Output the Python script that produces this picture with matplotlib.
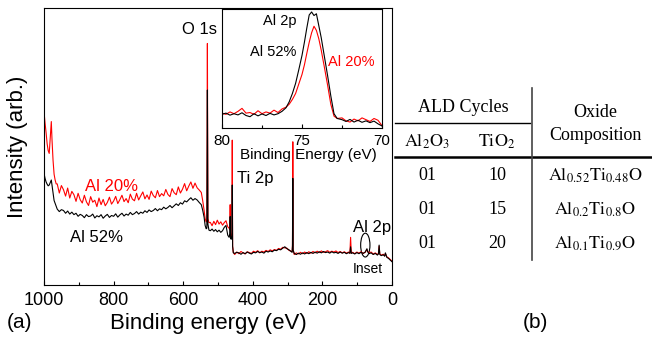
import numpy as np
import matplotlib
matplotlib.use("Agg")
import matplotlib.pyplot as plt
from matplotlib.patches import Ellipse

plt.rcParams['font.family'] = ['Liberation Sans', 'DejaVu Sans']
plt.rcParams['mathtext.fontset'] = 'stix'

# survey spectrum (binding energy in eV, intensity in arb. units)
energy = [
    1000, 997, 994, 991, 988, 985, 982, 979, 977, 974, 971, 968, 965,
    962, 956, 950, 944, 938, 932, 926, 920, 914, 908,
    902, 896, 890, 884, 878, 872, 866, 860, 854, 848,
    842, 836, 830, 824, 818, 812, 806, 800, 794, 788,
    782, 776, 770, 764, 758, 752, 746, 740, 734, 728,
    722, 716, 710, 704, 698, 692, 686, 680, 674, 668,
    662, 656, 650, 644, 638, 632, 626, 620, 614, 608,
    602, 596, 590, 584, 578, 572, 566, 560, 554, 548,
    544, 540, 537, 534,
    532, 530.5, 529, 526,
    522, 517, 512, 507, 502, 497, 492, 487, 482, 477, 472, 468,
    466, 465, 464, 462, 460, 459, 458, 456,
    452, 446, 440, 434, 428, 422, 416, 410, 404, 398,
    392, 386, 380, 374, 368, 362, 356, 350, 344, 338,
    332, 326, 320, 314, 308, 302, 296, 290, 287,
    286, 285, 284,
    281, 275, 269, 263, 257, 251, 245, 239, 233, 227,
    221, 215, 209, 203, 197, 191, 185, 179, 173, 167,
    161, 155, 149, 143, 137, 131, 125,
    121, 119, 117,
    113, 107, 101, 95, 89, 83, 77,
    74, 72, 70,
    66, 60, 54, 48, 42,
    39, 37, 35,
    31, 25, 21, 19, 15, 10, 5, 0,
]

al52 = [
    40.3, 38.5, 37.2, 36.4, 35.8, 36.1, 37.0, 37.9, 36.0, 33.0, 30.5, 29.5, 28.6,
    27.4, 26.5, 27.2, 26.9, 25.9, 26.7, 25.6, 26.3, 25.4, 25.9,
    24.8, 25.5, 25.1, 24.3, 25.4, 24.7, 24.9, 25.6, 24.2, 25.0,
    24.6, 25.4, 24.1, 24.9, 25.5, 24.4, 25.1, 24.8, 25.7, 24.5,
    25.3, 25.9, 24.9, 25.6, 25.2, 26.2, 25.4, 25.8, 26.5, 25.6,
    26.3, 25.9, 26.8, 26.2, 27.1, 26.5, 26.9, 27.6, 26.8, 27.5,
    27.2, 28.1, 27.5, 28.0, 28.7, 27.9, 28.6, 29.3, 28.7, 29.7,
    29.2, 30.4, 30.0, 30.8, 31.5, 30.6, 31.2, 30.7, 29.8, 29.0,
    27.0, 24.5, 21.5, 20.3,
    20.5, 70.4, 22.0, 19.8,
    19.6, 20.2, 19.4, 20.0, 19.2, 19.8, 19.0, 19.6, 20.8, 21.5, 18.0, 17.2,
    18.5, 24.7, 17.0, 16.5, 18.0, 36.1, 14.0, 11.6,
    11.4, 11.8, 11.6, 11.1, 11.7, 11.3, 11.9, 11.5, 11.2, 11.8,
    11.6, 12.1, 11.7, 11.9, 11.5, 12.2, 11.9, 12.3, 12.0, 12.6,
    12.4, 12.9, 12.7, 13.3, 13.8, 13.1, 12.7, 12.1, 11.8,
    14.0, 38.5, 12.5,
    11.4, 11.0, 11.5, 11.1, 11.6, 11.2, 11.7, 11.3, 11.8, 11.4,
    11.9, 11.5, 12.0, 11.6, 12.1, 11.7, 11.9, 11.5, 12.0, 11.6,
    11.8, 11.4, 11.9, 11.5, 11.8, 11.3, 11.7,
    11.5, 13.8, 11.4,
    11.6, 11.2, 11.7, 11.3, 11.8, 11.4, 11.9,
    12.6, 13.1, 12.0,
    11.3, 11.6, 11.0, 11.4, 10.8,
    11.2, 14.4, 11.0,
    10.6, 10.9, 10.4, 11.6, 10.0, 9.6, 9.0, 8.4,
]

al20 = [
    62.6, 58.5, 55.0, 51.0, 48.5, 47.5, 53.0, 59.0, 52.5, 45.0, 40.0, 37.9, 36.5,
    36.5, 33.2, 35.9, 34.4, 32.1, 35.0, 31.4, 33.8, 32.6, 30.2,
    33.1, 30.8, 29.6, 32.4, 30.0, 28.7, 31.9, 29.9, 30.6, 28.3,
    31.4, 29.0, 30.9, 28.6, 29.8, 31.7, 29.2, 30.3, 32.0, 29.4,
    30.8, 32.4, 30.1, 31.2, 29.7, 32.8, 31.0, 30.4, 33.1, 30.7,
    32.2, 33.6, 31.1, 32.5, 30.9, 33.9, 32.3, 31.5, 34.1, 31.9,
    33.0, 32.2, 34.5, 32.7, 31.9, 34.8, 33.3, 32.6, 35.4, 33.2,
    34.6, 36.6, 34.0, 35.7, 37.2, 34.9, 36.8, 35.1, 34.3, 33.4,
    30.5, 27.0, 24.0, 22.8,
    23.0, 87.2, 24.0, 22.5,
    22.6, 21.4, 23.0, 21.8, 23.4, 22.0, 22.8, 21.6, 22.5, 23.2, 21.0, 20.5,
    20.0, 29.0, 18.0, 17.0, 19.0, 52.3, 14.0, 11.8,
    11.0, 11.9, 11.3, 12.1, 11.6, 11.2, 12.0, 11.7, 11.4, 12.2,
    11.8, 12.4, 11.6, 12.2, 11.9, 12.5, 12.1, 12.7, 12.3, 12.8,
    12.5, 13.2, 12.9, 13.6, 13.4, 13.3, 12.5, 12.2, 12.0,
    14.5, 51.7, 12.8,
    11.0, 11.6, 11.2, 11.8, 11.3, 11.9, 11.4, 12.0, 11.5, 12.1,
    11.6, 12.2, 11.7, 12.3, 11.8, 12.0, 12.4, 11.8, 12.2, 11.9,
    12.3, 11.7, 12.1, 11.6, 12.0, 11.5, 11.9,
    11.4, 17.2, 11.6,
    11.8, 11.3, 11.9, 11.5, 12.0, 11.4, 11.8,
    12.4, 12.8, 12.2,
    11.6, 11.9, 11.2, 11.6, 11.0,
    11.4, 14.0, 11.2,
    10.8, 11.1, 10.5, 11.4, 10.2, 9.8, 9.2, 8.6,
]

# Al 2p high resolution (inset)
energy_in = [
    80.0, 79.75, 79.5, 79.25, 79.0, 78.75, 78.5, 78.25, 78.0, 77.75,
    77.5, 77.25, 77.0, 76.75, 76.5, 76.25, 76.0, 75.8, 75.6, 75.4,
    75.2, 75.0, 74.85, 74.7, 74.55, 74.4, 74.25, 74.1, 73.95, 73.8,
    73.6, 73.4, 73.2, 73.0, 72.8, 72.5, 72.25, 72.0, 71.75, 71.5,
    71.25, 71.0, 70.75, 70.5, 70.25, 70.0,
]
al52_in = [
    11.5, 12.5, 10.8, 12.0, 11.0, 12.8, 10.5, 9.5, 12.0, 10.2,
    11.8, 10.5, 12.3, 11.0, 12.0, 14.0, 17.0, 22.0, 29.0, 37.5,
    49.0, 61.0, 72.0, 84.0, 95.0, 97.5, 94.5, 96.0, 86.0, 76.0,
    60.0, 44.0, 27.0, 12.0, 8.0, 7.0, 5.5, 7.2, 5.0, 6.5,
    4.8, 6.0, 4.5, 5.8, 3.5, 1.7,
]
al20_in = [
    12.5, 11.5, 13.5, 12.0, 14.0, 16.5, 12.5, 13.0, 11.5, 14.5,
    12.0, 13.5, 12.5, 15.0, 13.0, 16.0, 17.5, 20.0, 24.0, 29.0,
    37.0, 45.0, 53.0, 62.7, 72.0, 80.0, 85.5, 82.0, 75.0, 65.5,
    51.0, 36.0, 20.0, 10.0, 8.0, 8.5, 6.0, 5.0, 7.5, 6.0,
    8.5, 7.0, 5.5, 8.0, 6.5, 2.0,
]

# table (b)
al2o3_cycles = ['01', '01', '01']
tio2_cycles = ['10', '15', '20']
compositions = [r'$\mathrm{Al_{0.52}Ti_{0.48}O}$',
                r'$\mathrm{Al_{0.2}Ti_{0.8}O}$',
                r'$\mathrm{Al_{0.1}Ti_{0.9}O}$']

W, H = 652, 339


def fx(px):
    return px / W


def fy(py):
    return 1 - py / H


fig = plt.figure(figsize=(W / 100, H / 100), dpi=100)

# main survey axes
ax = fig.add_axes([fx(44), fy(285), fx(392) - fx(44), fy(8) - fy(285)])
ax.plot(energy, al20, color='red', lw=0.8)
ax.plot(energy, al52, color='black', lw=0.8)
ax.set_xlim(1000, 0)
ax.set_ylim(0, 100)
ax.set_xticks([1000, 800, 600, 400, 200, 0])
ax.set_xticks(np.arange(900, 0, -200), minor=True)
ax.set_yticks([])
ax.tick_params(axis='x', which='major', direction='in', length=3, width=0.8,
               labelsize=13, pad=5)
ax.tick_params(axis='x', which='minor', direction='in', length=2, width=0.8)
for s in ax.spines.values():
    s.set_linewidth(0.8)

ax.text(552, 92.4, 'O 1s', fontsize=12, ha='center', va='center')
ax.text(394, 38.6, 'Ti 2p', fontsize=12, ha='center', va='center')
ax.text(807, 35.4, 'Al 20%', fontsize=12, color='red', ha='center', va='center')
ax.text(848, 17.3, 'Al 52%', fontsize=12, ha='center', va='center')
ax.text(56, 20.6, 'Al 2p', fontsize=12, ha='center', va='center')
ax.text(69, 5.8, 'Inset', fontsize=10, ha='center', va='center')
ax.add_patch(Ellipse((76.7, 14.4), 26.7, 8.6, fill=False, ec='black', lw=0.8))

fig.text(fx(18), fy(146.5), 'Intensity (arb.)', fontsize=16, rotation=90,
         ha='center', va='center')
fig.text(fx(208), fy(323), 'Binding energy (eV)', fontsize=16,
         ha='center', va='center')
fig.text(fx(19.5), fy(323), '(a)', fontsize=15, ha='center', va='center')
fig.text(fx(535.5), fy(323), '(b)', fontsize=15, ha='center', va='center')

# inset
axi = fig.add_axes([fx(222), fy(128), fx(382) - fx(222), fy(9) - fy(128)])
axi.plot(energy_in, al20_in, color='red', lw=0.8)
axi.plot(energy_in, al52_in, color='black', lw=0.8)
axi.set_xlim(80, 70)
axi.set_ylim(0, 100)
axi.set_xticks([80, 75, 70])
axi.set_xticks([77.5, 72.5], minor=True)
axi.set_yticks([])
axi.tick_params(axis='x', which='major', direction='in', length=3, width=0.8,
                labelsize=11, pad=4)
axi.tick_params(axis='x', which='minor', direction='in', length=2, width=0.8)
for s in axi.spines.values():
    s.set_linewidth(0.8)
axi.text(76.4, 89.9, 'Al 2p', fontsize=10.5, ha='center', va='center')
axi.text(76.8, 63.9, 'Al 52%', fontsize=10.5, ha='center', va='center')
axi.text(71.9, 55.5, 'Al 20%', fontsize=10.5, color='red', ha='center', va='center')
fig.text(fx(308.5), fy(155.5), 'Binding Energy (eV)', fontsize=11,
         ha='center', va='center')

# table
serif = ['Liberation Serif', 'DejaVu Serif']
col_x = [427, 497, 595]
row_y = [176, 210, 243]
fig.text(fx(463), fy(107), 'ALD Cycles', fontsize=13, family=serif,
         ha='center', va='center')
fig.text(fx(595), fy(113), 'Oxide', fontsize=13, family=serif,
         ha='center', va='center')
fig.text(fx(595), fy(136), 'Composition', fontsize=13, family=serif,
         ha='center', va='center')
fig.text(fx(col_x[0]), fy(142), r'$\mathrm{Al_2O_3}$', fontsize=13,
         ha='center', va='center')
fig.text(fx(col_x[1]), fy(142), r'$\mathrm{TiO_2}$', fontsize=13,
         ha='center', va='center')
for i in range(3):
    fig.text(fx(col_x[0]), fy(row_y[i]), al2o3_cycles[i], fontsize=13,
             family=serif, ha='center', va='center')
    fig.text(fx(col_x[1]), fy(row_y[i]), tio2_cycles[i], fontsize=13,
             family=serif, ha='center', va='center')
    fig.text(fx(col_x[2]), fy(row_y[i]), compositions[i], fontsize=13,
             ha='center', va='center')

fig.add_artist(plt.Line2D([fx(395), fx(530)], [fy(123), fy(123)],
                          color='black', lw=1.0))
fig.add_artist(plt.Line2D([fx(395), fx(652)], [fy(157), fy(157)],
                          color='black', lw=1.8))
fig.add_artist(plt.Line2D([fx(532), fx(532)], [fy(88), fy(260)],
                          color='#444444', lw=1.2))

fig.savefig('out.png', dpi=100)
